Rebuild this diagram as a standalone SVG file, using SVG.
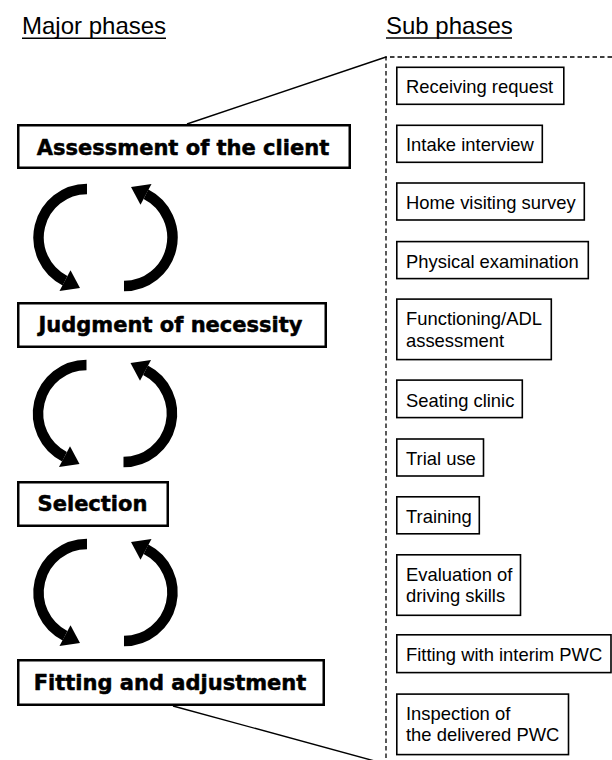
<svg xmlns="http://www.w3.org/2000/svg" xmlns:xlink="http://www.w3.org/1999/xlink" width="612" height="760" viewBox="0 0 612 760">
  <style>
    .heading { font-family: "Liberation Sans", Arial, sans-serif; font-size: 24px; fill: #000; }
    .uline { stroke: #000; stroke-width: 1.4; }
    .major rect { fill: #fff; stroke: #000; stroke-width: 2.5; }
    .major text { font-family: "DejaVu Sans", "Liberation Sans", sans-serif; font-weight: bold; font-size: 21px; fill: #000; stroke: #000; stroke-width: 0.5; stroke-linejoin: round; text-anchor: middle; }
    .sub rect { fill: #fff; stroke: #000; stroke-width: 1.6; }
    .sub text { font-family: "Liberation Sans", Arial, sans-serif; font-size: 18.4px; fill: #000; }
    .frame { fill: none; stroke: #000; stroke-width: 1.3; stroke-dasharray: 4.5 3; }
    .link { stroke: #000; stroke-width: 1.4; fill: none; }
    .arc { fill: none; stroke: #000; stroke-width: 10.5; stroke-linecap: butt; }
    .head { fill: #000; }
  </style>
  <defs>
    <!-- pair of circular arrows, centred on the origin -->
    <g id="cycle">
      <path class="arc" d="M -18.5,-48.5 A 48.5 48.5 0 0 0 -40.5,43.2"/>
      <polygon class="head" points="-46,53.5 -35,32.8 -25.5,50.5"/>
      <path class="arc" d="M 18.5,48.5 A 48.5 48.5 0 0 0 40.5,-43.2"/>
      <polygon class="head" points="46,-53.5 35,-32.8 25.5,-50.5"/>
    </g>
  </defs>

  <rect width="612" height="760" fill="#fff"/>

  <!-- column headings -->
  <g id="heading-major">
    <text class="heading" x="22" y="34">Major phases</text>
    <line class="uline" x1="22" y1="38.3" x2="166" y2="38.3"/>
  </g>
  <g id="heading-sub">
    <text class="heading" x="386" y="33.5">Sub phases</text>
    <line class="uline" x1="386" y1="38" x2="512" y2="38"/>
  </g>

  <!-- dashed bracket around the sub phases -->
  <path class="frame" d="M 612,57 H 386 V 760"/>

  <!-- connectors -->
  <g id="connectors">
    <line class="link" x1="187" y1="124" x2="386" y2="57"/>
    <line class="link" x1="173" y1="706" x2="382" y2="763"/>
    <use xlink:href="#cycle" transform="translate(105.5,237.5)"/>
    <use xlink:href="#cycle" transform="translate(105,413.5)"/>
    <use xlink:href="#cycle" transform="translate(105.5,592.5)"/>
  </g>

  <!-- major phases -->
  <g id="assessment" class="major">
    <rect x="18.25" y="125.25" width="331.5" height="42.5"/>
    <text x="183" y="155">Assessment of the client</text>
  </g>
  <g id="judgment" class="major">
    <rect x="18.25" y="303.25" width="307.5" height="43.5"/>
    <text x="170.5" y="332">Judgment of necessity</text>
  </g>
  <g id="selection" class="major">
    <rect x="18.25" y="482.25" width="149.5" height="43.5"/>
    <text x="92.5" y="511">Selection</text>
  </g>
  <g id="fitting" class="major">
    <rect x="18.25" y="660.25" width="305.5" height="44.5"/>
    <text x="170" y="689.5">Fitting and adjustment</text>
  </g>

  <!-- sub phases -->
  <g id="receiving" class="sub">
    <rect x="396.8" y="67.3" width="167" height="37"/>
    <text x="406" y="92.5">Receiving request</text>
  </g>
  <g id="intake" class="sub">
    <rect x="396.8" y="125.3" width="145.5" height="37"/>
    <text x="406" y="151">Intake interview</text>
  </g>
  <g id="home-visit" class="sub">
    <rect x="396.8" y="183" width="187.5" height="37"/>
    <text x="406" y="209">Home visiting survey</text>
  </g>
  <g id="physical" class="sub">
    <rect x="396.8" y="241.6" width="191.5" height="37"/>
    <text x="406" y="267.5">Physical examination</text>
  </g>
  <g id="functioning" class="sub">
    <rect x="396.8" y="299.1" width="154.5" height="60.5"/>
    <text x="406" y="325">Functioning/ADL</text>
    <text x="406" y="346.5">assessment</text>
  </g>
  <g id="seating" class="sub">
    <rect x="396.8" y="380.1" width="125.5" height="37.5"/>
    <text x="406" y="406.5">Seating clinic</text>
  </g>
  <g id="trial" class="sub">
    <rect x="396.8" y="439" width="86.7" height="37"/>
    <text x="406" y="465">Trial use</text>
  </g>
  <g id="training" class="sub">
    <rect x="396.8" y="496.8" width="82.5" height="37"/>
    <text x="406" y="522.5">Training</text>
  </g>
  <g id="evaluation" class="sub">
    <rect x="396.8" y="554.8" width="123.7" height="60.5"/>
    <text x="406" y="580.5">Evaluation of</text>
    <text x="406" y="601.5">driving skills</text>
  </g>
  <g id="interim" class="sub">
    <rect x="396.8" y="634.8" width="214.2" height="37.8"/>
    <text x="406" y="660.7">Fitting with interim PWC</text>
  </g>
  <g id="inspection" class="sub">
    <rect x="396.8" y="694.1" width="171.7" height="60.5"/>
    <text x="406" y="720">Inspection of</text>
    <text x="406" y="741">the delivered PWC</text>
  </g>
</svg>
